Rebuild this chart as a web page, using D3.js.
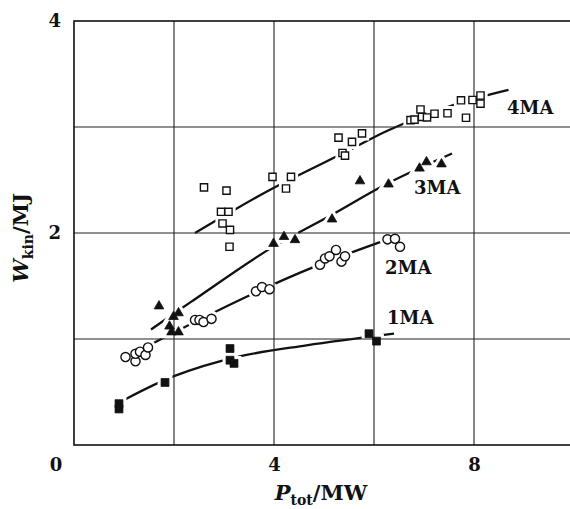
<!DOCTYPE html>
<html>
<head>
<meta charset="utf-8">
<script src="https://cdn.jsdelivr.net/npm/d3@7"></script>
<style>
  body { margin: 0; background: #fff; }
  svg { display: block; }
  text { font-family: 'DejaVu Serif', serif; font-weight: bold; fill: #111; }
</style>
</head>
<body>
<script>
// tick values
const xTicks = [4, 8]
const yTicks = [2, 4]
const gridX = [2, 4, 6, 8]
const gridY = [1, 2, 3]

const seriesNames = ['1MA', '2MA', '3MA', '4MA']

// measured points [P_tot (MW), W_kin (MJ)]
const pts1MA = [
  [0.9, 0.39], [0.9, 0.34], [1.82, 0.59], [3.12, 0.91], [3.12, 0.8],
  [3.2, 0.77], [5.9, 1.05], [6.05, 0.98]
]
const pts2MA = [
  [1.03, 0.83], [1.23, 0.79], [1.23, 0.86], [1.32, 0.88], [1.43, 0.85], [1.48, 0.92],
  [2.42, 1.18], [2.51, 1.18], [2.59, 1.16], [2.75, 1.19],
  [3.64, 1.45], [3.76, 1.49], [3.91, 1.47],
  [4.92, 1.7], [5.02, 1.76], [5.11, 1.78], [5.24, 1.84], [5.35, 1.73], [5.42, 1.78],
  [6.27, 1.94], [6.42, 1.945], [6.52, 1.87]
]
const pts3MA = [
  [1.7, 1.31], [1.99, 1.21], [2.09, 1.245], [1.91, 1.12], [1.95, 1.065], [2.09, 1.065],
  [3.99, 1.9], [4.2, 1.965], [4.42, 1.935], [5.16, 2.13],
  [5.72, 2.49], [6.29, 2.46], [6.91, 2.61], [7.05, 2.67], [7.35, 2.65]
]
const pts4MA = [
  [2.6, 2.43], [3.05, 2.4], [2.94, 2.2], [3.09, 2.2], [2.97, 2.09], [3.12, 2.03], [3.11, 1.87],
  [3.97, 2.53], [4.34, 2.53], [4.24, 2.42],
  [5.29, 2.9], [5.56, 2.86], [5.76, 2.94], [5.37, 2.755], [5.42, 2.73],
  [6.73, 3.065], [6.81, 3.07], [6.93, 3.165], [6.96, 3.095], [7.06, 3.09], [7.21, 3.125],
  [7.47, 3.13], [7.84, 3.087], [7.74, 3.252], [7.97, 3.255], [8.13, 3.297], [8.13, 3.22]
]

// fitted curves
const fit1MA = [[1.02, 0.43], [2.0, 0.65], [3.25, 0.83], [4.65, 0.94], [6.4, 1.05]]
const fit2MA = [[1.1, 0.84], [1.95, 1.05], [3.59, 1.43], [4.85, 1.69], [6.22, 1.93]]
const fit3MA = [[1.54, 1.09], [2.34, 1.35], [3.93, 1.855], [5.15, 2.17], [6.26, 2.465], [7.56, 2.75]]
const fit4MA = [[2.42, 2.0], [3.03, 2.17], [3.97, 2.42], [5.5, 2.78], [6.29, 2.97], [7.6, 3.21], [8.69, 3.35]]

const width = 570
const height = 509

const svg = d3.select('body').append('svg')
  .attr('width', width)
  .attr('height', height)

const x = d3.scaleLinear().domain([0, 10]).range([74, 574])
const y = d3.scaleLinear().domain([0, 4]).range([445, 21])

const series = [
  { name: seriesNames[0], pts: pts1MA, fit: fit1MA, shape: d3.symbolSquare, size: 62, filled: true, label: [6.26, 1.2] },
  { name: seriesNames[1], pts: pts2MA, fit: fit2MA, shape: d3.symbolCircle, size: 66, filled: false, label: [6.22, 1.675] },
  { name: seriesNames[2], pts: pts3MA, fit: fit3MA, shape: d3.symbolTriangle, size: 40, filled: true, label: [6.8, 2.432] },
  { name: seriesNames[3], pts: pts4MA, fit: fit4MA, shape: d3.symbolSquare, size: 52, filled: false, label: [8.66, 3.187] },
]

// fitted lines
const line = d3.line()
  .curve(d3.curveCatmullRom)
  .x(function (d) { return x(d[0]) })
  .y(function (d) { return y(d[1]) })

svg.append('g').attr('class', 'fits')
  .selectAll('path')
  .data(series)
  .enter().append('path')
    .attr('d', function (d) { return line(d.fit) })
    .attr('fill', 'none')
    .attr('stroke', '#111')
    .attr('stroke-width', 2.3)

// white halo round every marker breaks the lines like in print
const halo = svg.append('g').attr('class', 'halo')
series.forEach(function (s) {
  halo.selectAll('path.h' + s.name)
    .data(s.pts)
    .enter().append('path')
      .attr('transform', function (d) { return 'translate(' + x(d[0]) + ',' + y(d[1]) + ')' })
      .attr('d', d3.symbol().type(s.shape).size(s.size))
      .attr('fill', '#fff')
      .attr('stroke', '#fff')
      .attr('stroke-width', 7)
})

// grid
const grid = svg.append('g').attr('class', 'grid')
grid.selectAll('line.gx')
  .data(gridX)
  .enter().append('line')
    .attr('x1', function (d) { return x(d) })
    .attr('x2', function (d) { return x(d) })
    .attr('y1', y(4))
    .attr('y2', y(0))
    .attr('stroke', '#222')
    .attr('stroke-width', 1.1)
grid.selectAll('line.gy')
  .data(gridY)
  .enter().append('line')
    .attr('x1', x(0))
    .attr('x2', x(10))
    .attr('y1', function (d) { return y(d) })
    .attr('y2', function (d) { return y(d) })
    .attr('stroke', '#222')
    .attr('stroke-width', 1.1)

svg.append('rect')
  .attr('x', x(0))
  .attr('y', y(4))
  .attr('width', x(10) - x(0))
  .attr('height', y(0) - y(4))
  .attr('fill', 'none')
  .attr('stroke', '#111')
  .attr('stroke-width', 1.6)

// markers
const marks = svg.append('g').attr('class', 'marks')
series.forEach(function (s) {
  marks.selectAll('path.m' + s.name)
    .data(s.pts)
    .enter().append('path')
      .attr('transform', function (d) { return 'translate(' + x(d[0]) + ',' + y(d[1]) + ')' })
      .attr('d', d3.symbol().type(s.shape).size(s.size))
      .attr('fill', s.filled ? '#111' : '#fff')
      .attr('stroke', '#111')
      .attr('stroke-width', s.filled ? 0.8 : 1.4)
})

// series labels
svg.append('g').attr('class', 'labels')
  .selectAll('text')
  .data(series)
  .enter().append('text')
    .attr('x', function (d) { return x(d.label[0]) })
    .attr('y', function (d) { return y(d.label[1]) + 6.5 })
    .attr('font-size', 18)
    .text(function (d) { return d.name })

// axes
const yAxis = svg.append('g')
  .attr('transform', 'translate(' + x(0) + ',0)')
  .call(d3.axisLeft(y).tickValues(yTicks).tickFormat(d3.format('d')).tickSize(0).tickPadding(13))
yAxis.select('.domain').remove()
yAxis.selectAll('text').attr('font-size', 18).style('font-family', 'DejaVu Serif').style('fill', '#111')

const xAxis = svg.append('g')
  .attr('transform', 'translate(0,' + y(0) + ')')
  .call(d3.axisBottom(x).tickValues(xTicks).tickFormat(d3.format('d')).tickSize(0).tickPadding(13))
xAxis.select('.domain').remove()
xAxis.selectAll('text').attr('font-size', 18).style('font-family', 'DejaVu Serif').style('fill', '#111')

// shared origin label
svg.append('text')
  .attr('x', x(0) - 18)
  .attr('y', y(0) + 26)
  .attr('text-anchor', 'middle')
  .attr('font-size', 18)
  .text('0')

// axis titles
const xt = svg.append('text')
  .attr('x', 321)
  .attr('y', 500)
  .attr('text-anchor', 'middle')
  .attr('font-size', 21)
xt.append('tspan').attr('font-style', 'italic').text('P')
xt.append('tspan').attr('font-size', 14).attr('dy', 5).text('tot')
xt.append('tspan').attr('dy', -5).text('/MW')

const yt = svg.append('text')
  .attr('transform', 'translate(28,238) rotate(-90)')
  .attr('text-anchor', 'middle')
  .attr('font-size', 21)
yt.append('tspan').attr('font-style', 'italic').text('W')
yt.append('tspan').attr('font-size', 14).attr('dy', 5).text('kin')
yt.append('tspan').attr('dy', -5).text('/MJ')
</script>
</body>
</html>
